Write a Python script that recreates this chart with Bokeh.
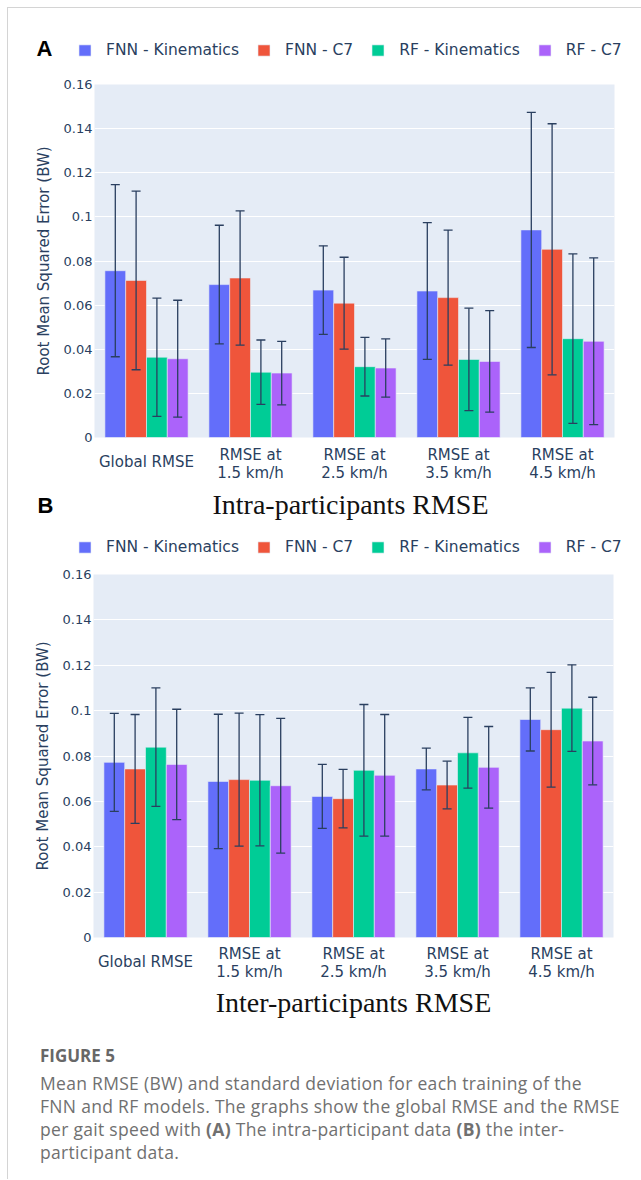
import json
from bokeh.plotting import figure
from bokeh.models import (FactorRange, Range1d, ColumnDataSource, Whisker, TeeHead, CategoricalAxis,
                          Legend, LegendItem, Label, FixedTicker, CustomJSTickFormatter, Div)
from bokeh.transform import dodge
from bokeh.layouts import column
from bokeh.embed import file_html
from bokeh.resources import INLINE

categories = ["Global RMSE", "RMSE at\n1.5 km/h", "RMSE at\n2.5 km/h",
              "RMSE at\n3.5 km/h", "RMSE at\n4.5 km/h"]
series_names = ["FNN - Kinematics", "FNN - C7", "RF - Kinematics", "RF - C7"]
series_colors = ["#636EFA", "#EF553B", "#00CC96", "#AB63FA"]
y_ticks = [0, 0.02, 0.04, 0.06, 0.08, 0.1, 0.12, 0.14, 0.16]

# (A) intra-participant: mean RMSE and standard deviation
intra_fnn_kin = [0.0756, 0.0693, 0.0668, 0.0664, 0.0941]
intra_fnn_c7 = [0.0712, 0.0723, 0.0609, 0.0634, 0.0853]
intra_rf_kin = [0.0364, 0.0296, 0.0321, 0.0354, 0.0448]
intra_rf_c7 = [0.0357, 0.0292, 0.0315, 0.0345, 0.0436]
intra_sd_fnn_kin = [0.0390, 0.0269, 0.0201, 0.0310, 0.0533]
intra_sd_fnn_c7 = [0.0405, 0.0304, 0.0208, 0.0306, 0.0569]
intra_sd_rf_kin = [0.0268, 0.0146, 0.0133, 0.0232, 0.0384]
intra_sd_rf_c7 = [0.0265, 0.0144, 0.0132, 0.0230, 0.0378]

# (B) inter-participant: mean RMSE and standard deviation
inter_fnn_kin = [0.0772, 0.0688, 0.0622, 0.0743, 0.0961]
inter_fnn_c7 = [0.0743, 0.0696, 0.0612, 0.0672, 0.0916]
inter_rf_kin = [0.0839, 0.0693, 0.0737, 0.0814, 0.1011]
inter_rf_c7 = [0.0763, 0.0669, 0.0715, 0.0750, 0.0866]
inter_sd_fnn_kin = [0.0216, 0.0296, 0.0141, 0.0092, 0.0139]
inter_sd_fnn_c7 = [0.0240, 0.0293, 0.0129, 0.0105, 0.0253]
inter_sd_rf_kin = [0.0261, 0.0289, 0.0290, 0.0156, 0.0191]
inter_sd_rf_c7 = [0.0243, 0.0297, 0.0268, 0.0180, 0.0193]

TEXT = "#2a3f5f"
BG = "#E5ECF6"
SANS = "DejaVu Sans"
SERIF = "Liberation Serif"
W = 628
offsets = [-0.3, -0.1, 0.1, 0.3]
NAN = float("nan")


def strip_figure(height):
    """A figure without axes whose data units are pixels (headers between panels)."""
    f = figure(width=W, height=height, x_range=Range1d(0, W), y_range=Range1d(0, height),
               output_backend="svg", toolbar_location=None, min_border=0,
               x_axis_location=None, y_axis_location=None, frame_align=False)
    f.grid.visible = False
    f.outline_line_color = None
    f.background_fill_color = "white"
    f.border_fill_color = "white"
    return f


def add_legend(f, loc):
    items = []
    for name, color in zip(series_names, series_colors):
        # legend-only renderer (no visible data)
        r = f.vbar(x=[NAN], top=[NAN], width=1, fill_color=color, line_color=BG, line_width=0.6)
        items.append(LegendItem(label=name, renderers=[r]))
    f.add_layout(Legend(items=items, orientation="horizontal", location=loc,
                        glyph_width=15, glyph_height=14, label_standoff=14, spacing=17,
                        padding=0, margin=0, border_line_color=None,
                        background_fill_alpha=0, label_text_font=SANS,
                        label_text_font_size="15.5px", label_text_color=TEXT))


def panel_label(f, text, x, y):
    f.add_layout(Label(x=x, y=y, text=text, text_font="Liberation Sans",
                       text_font_style="bold", text_font_size="22px", text_color="black"))


def style_x_axis(ax, standoff):
    ax.axis_line_color = None
    ax.major_tick_line_color = None
    ax.minor_tick_line_color = None
    ax.major_tick_out = 0
    ax.major_tick_in = 0
    ax.major_label_standoff = standoff
    ax.major_label_text_font = SANS
    ax.major_label_text_font_size = "15px"
    ax.major_label_text_color = TEXT
    ax.major_label_text_line_height = 1.05


def make_panel(means, sds, height, bl, br, bt, bb, title=None, s2=-28):
    p = figure(x_range=FactorRange(*categories, range_padding=0),
               y_range=Range1d(0, 0.16), width=W, height=height,
               output_backend="svg", toolbar_location=None, frame_align=False,
               min_border_left=bl, min_border_right=br,
               min_border_top=bt, min_border_bottom=bb)
    p.background_fill_color = BG
    p.border_fill_color = "white"
    p.outline_line_color = None
    for i in range(4):
        src = ColumnDataSource(dict(
            cat=categories, val=means[i],
            upper=[m + s for m, s in zip(means[i], sds[i])],
            lower=[m - s for m, s in zip(means[i], sds[i])]))
        p.vbar(x=dodge("cat", offsets[i], range=p.x_range), top="val", width=0.2,
               source=src, fill_color=series_colors[i], line_color=BG, line_width=0.6)
        p.add_layout(Whisker(base=dodge("cat", offsets[i], range=p.x_range),
                             upper="upper", lower="lower", source=src,
                             line_color=TEXT, line_width=1.3, level="overlay",
                             upper_head=TeeHead(size=9, line_color=TEXT, line_width=1.3),
                             lower_head=TeeHead(size=9, line_color=TEXT, line_width=1.3)))

    p.ygrid.grid_line_color = "white"
    p.ygrid.grid_line_width = 1
    p.xgrid.grid_line_color = None

    ya = p.yaxis[0]
    ya.ticker = FixedTicker(ticks=y_ticks)
    ya.formatter = CustomJSTickFormatter(code="return String(Math.round(tick*100)/100);")
    ya.axis_line_color = None
    ya.major_tick_line_color = None
    ya.minor_tick_line_color = None
    ya.major_tick_out = 0
    ya.major_tick_in = 0
    ya.major_label_standoff = 2
    ya.major_label_text_font = SANS
    ya.major_label_text_font_size = "13px"
    ya.major_label_text_color = TEXT
    ya.axis_label = "Root Mean Squared Error (BW)"
    ya.axis_label_text_font = SANS
    ya.axis_label_text_font_size = "15px"
    ya.axis_label_text_font_style = "normal"
    ya.axis_label_text_color = TEXT
    ya.axis_label_standoff = 8

    # one-line category label (centred on the two-line ones) on the inner axis,
    # two-line category labels on the outer axis
    first = json.dumps(categories[0])
    xa1 = p.xaxis[0]
    xa1.formatter = CustomJSTickFormatter(code=f"return tick == {first} ? tick : '';")
    style_x_axis(xa1, 15)
    xa2 = CategoricalAxis(formatter=CustomJSTickFormatter(
        code=f"return tick == {first} ? '' : tick;"))
    style_x_axis(xa2, s2)
    if title:
        xa2.axis_label = title
        xa2.axis_label_text_font = SERIF
        xa2.axis_label_text_font_size = "28px"
        xa2.axis_label_text_font_style = "normal"
        xa2.axis_label_text_color = "#111111"
        xa2.axis_label_standoff = 3
    p.add_layout(xa2, "below")
    return p


# header of panel A: letter + legend
hdrA = strip_figure(60)
panel_label(hdrA, "A", 28, 8)
add_legend(hdrA, (69, 9.5))

pA = make_panel([intra_fnn_kin, intra_fnn_c7, intra_rf_kin, intra_rf_c7],
                [intra_sd_fnn_kin, intra_sd_fnn_c7, intra_sd_rf_kin, intra_sd_rf_c7],
                418, 86, 22, 16, 49, s2=-28)

# between the panels: title of A, letter B, legend of B
mid = strip_figure(74)
mid.add_layout(Label(x=342, y=56, text="Intra-participants RMSE", text_font=SERIF,
                     text_font_size="28px", text_color="#111111",
                     text_align="center", text_baseline="middle"))
panel_label(mid, "B", 29, 43)
add_legend(mid, (69, 4))

pB = make_panel([inter_fnn_kin, inter_fnn_c7, inter_rf_kin, inter_rf_c7],
                [inter_sd_fnn_kin, inter_sd_fnn_c7, inter_sd_rf_kin, inter_sd_rf_c7],
                469, 85, 23, 14, 92, title="Inter-participants RMSE", s2=-29)

caption = Div(width=W, height=140, text=(
    '<div style="font-family:\'Open Sans\'; color:#707070; padding-left:27px; padding-top:10px;">'
    '<div style="font-weight:bold; font-size:17px; line-height:24px; color:#676767;">FIGURE 5</div>'
    '<div style="font-size:17.5px; line-height:23px; margin-top:4px; letter-spacing:0.3px;">'
    'Mean RMSE (BW) and standard deviation for each training of the<br>'
    'FNN and RF models. The graphs show the global RMSE and the RMSE<br>'
    'per gait speed with <b>(A)</b> The intra-participant data <b>(B)</b> the inter-<br>'
    'participant data.</div></div>'))

layout = column(hdrA, pA, mid, pB, caption,
                styles={"margin-left": "7px", "margin-top": "7px",
                        "border-left": "1px solid #d4d4d4", "border-top": "1px solid #d4d4d4"})

open("out.html", "w").write(file_html(layout, INLINE))
